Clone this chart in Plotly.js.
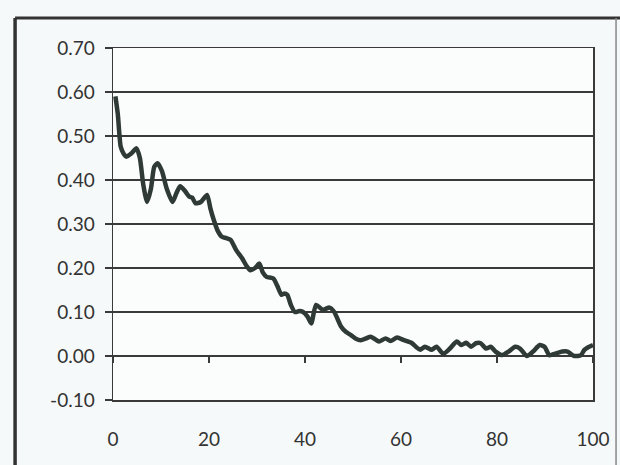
<!DOCTYPE html>
<html>
<head>
<meta charset="utf-8">
<script src="https://cdn.plot.ly/plotly-3.0.1.min.js"></script>
<style>
html,body{margin:0;padding:0;background:#f6f9f9;}
#chart{width:620px;height:465px;}
</style>
</head>
<body>
<div id="chart"></div>
<script>
const xValues = [0.5,1.0,1.6,2.2,2.8,3.8,4.9,5.6,6.3,7.1,7.9,8.6,9.3,10.2,11.2,12.4,13.2,14,15,15.9,16.5,17.2,18.3,19.6,20.3,21,21.8,22.7,23.6,24.5,25.7,26.9,27.8,28.6,29.6,30.5,31.2,32,33.4,34.2,35.1,35.7,36.3,37.1,37.9,38.8,39.6,40.5,41.3,42.3,43.7,45.1,46.1,47.5,48.5,49.5,50.5,51.6,52.7,53.7,55.4,56.8,57.8,59.2,60.6,62.3,63.2,64,65,66.4,67.4,68.8,70.2,71.6,72.6,73.6,74.6,75.6,76.6,77.7,78.7,79.7,81.1,82.4,83.8,84.8,86.2,87.5,88.9,89.9,90.9,92.3,93.6,94.7,96.1,97.5,98.2,99,100];
const yValues = [0.59,0.55,0.476,0.46,0.453,0.46,0.472,0.45,0.39,0.35,0.38,0.43,0.438,0.42,0.38,0.35,0.37,0.386,0.375,0.362,0.36,0.347,0.35,0.366,0.335,0.309,0.285,0.271,0.268,0.264,0.24,0.222,0.205,0.195,0.2,0.21,0.19,0.18,0.176,0.16,0.139,0.142,0.139,0.115,0.10,0.102,0.10,0.09,0.074,0.116,0.105,0.11,0.10,0.067,0.055,0.048,0.04,0.036,0.04,0.044,0.033,0.04,0.034,0.042,0.036,0.029,0.02,0.014,0.021,0.014,0.021,0.005,0.017,0.033,0.025,0.03,0.021,0.029,0.029,0.017,0.021,0.01,0.002,0.01,0.021,0.017,0.0,0.01,0.025,0.021,0.002,0.006,0.01,0.01,0.0,0.002,0.014,0.02,0.025];
const xTicks = [0,20,40,60,80,100];
const yTicks = [-0.1,0,0.1,0.2,0.3,0.4,0.5,0.6,0.7];
const yTickText = ["-0.10","0.00","0.10","0.20","0.30","0.40","0.50","0.60","0.70"];

const ink = '#2f3a37';
const trace = {
  x: xValues, y: yValues, type: 'scatter', mode: 'lines',
  line: {color: ink, width: 4.5, shape: 'spline', smoothing: 0.6},
  hoverinfo: 'skip', showlegend: false
};
const tickTrace = {
  x: [0,100], y: [0,0], xaxis: 'x2', yaxis: 'y', type: 'scatter', mode: 'lines',
  line: {color: 'rgba(0,0,0,0)', width: 0}, hoverinfo: 'skip', showlegend: false
};

const font = {family: 'Lato, Liberation Sans, Arial, sans-serif', size: 19, color: '#333'};
const layout = {
  width: 620, height: 465,
  margin: {l: 113, r: 27, t: 48, b: 65},
  paper_bgcolor: '#f6f9f9', plot_bgcolor: '#fbfdfd',
  font: font,
  xaxis: {
    range: [0, 100], tickvals: xTicks, ticktext: xTicks.map(String),
    showgrid: false, zeroline: false, showline: true, mirror: true,
    linecolor: '#3a3a3a', linewidth: 1.5, ticks: '', ticklabelstandoff: 22,
    tickfont: font, fixedrange: true
  },
  xaxis2: {
    overlaying: 'x', anchor: 'free', position: 0.125, side: 'bottom',
    range: [0, 100], tickvals: xTicks, showticklabels: false,
    ticks: 'outside', ticklen: 6, tickwidth: 1.2, tickcolor: '#3a3a3a',
    showgrid: false, zeroline: false, showline: false
  },
  yaxis: {
    range: [-0.1, 0.7], tickvals: yTicks, ticktext: yTickText,
    showgrid: true, gridcolor: '#3a3a3a', gridwidth: 1.5,
    zeroline: false, showline: true, mirror: true,
    linecolor: '#3a3a3a', linewidth: 1.5,
    ticks: 'outside', ticklen: 7, tickwidth: 1.2, tickcolor: '#3a3a3a',
    ticklabelstandoff: 6, tickfont: font, fixedrange: true
  },
  shapes: [
    {type: 'line', xref: 'paper', yref: 'paper', x0: -0.204, x1: -0.204, y0: 1.085, y1: -0.25, line: {color: '#333', width: 3.5}},
    {type: 'line', xref: 'paper', yref: 'paper', x0: -0.204, x1: 1.1, y0: 1.085, y1: 1.085, line: {color: '#333', width: 3}},
    {type: 'line', xref: 'paper', yref: 'paper', x0: 1.048, x1: 1.048, y0: 1.085, y1: -0.25, line: {color: '#888', width: 1.5}}
  ]
};

Plotly.newPlot('chart', [trace, tickTrace], layout, {staticPlot: true, displayModeBar: false});
</script>
</body>
</html>
